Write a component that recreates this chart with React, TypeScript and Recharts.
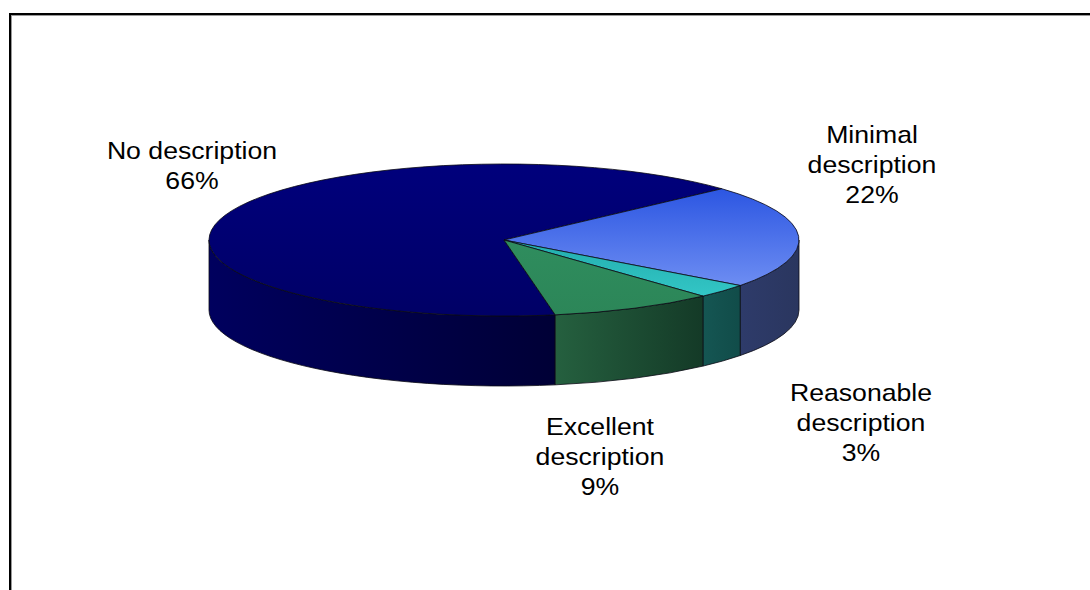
import React from 'react';
import { PieChart, Pie } from 'recharts';

// slice data (clockwise, starting at the front cut between Excellent and No)
const NAMES = ['No description', 'Minimal description', 'Reasonable description', 'Excellent description'];
const VALUES = [66, 22, 3, 9];
const LABEL_BREAK = [false, true, true, true];

const TOP_COLORS = [
  ['#00007c', '#000066'],
  ['#2c56e2', '#6d8df2'],
  ['#22adad', '#33c6c6'],
  ['#2f8d5e', '#2c8658'],
];
const WALL_COLORS = [
  ['#00005e', '#000036'],
  ['#2e3b6a', '#2a365f'],
  ['#155653', '#114c49'],
  ['#25603f', '#143a27'],
];
// label anchor, relative to pie centre (first baseline, centred)
const LABEL_OFFSETS = [
  [-312, -81],
  [368, -97],
  [357, 161],
  [96, 195],
];

const TILT = 76 / 295;
const DEPTH = 70;

const data = NAMES.map((name, i) => ({ name, value: VALUES[i] }));

const Slice3D = (props: any) => {
  const { cx, cy, outerRadius, startAngle, endAngle, index } = props;
  const rx = outerRadius;
  const ry = outerRadius * TILT;
  const pt = (a: number, dy = 0) => {
    const r = (a * Math.PI) / 180;
    return [cx + rx * Math.cos(r), cy - ry * Math.sin(r) + dy];
  };
  const lo = Math.min(startAngle, endAngle);
  const hi = Math.max(startAngle, endAngle);

  // visible front wall pieces (lower half of the ellipse)
  const walls: string[] = [];
  for (let k = -2; k <= 2; k++) {
    const a = Math.max(lo, -180 + 360 * k);
    const b = Math.min(hi, 360 * k);
    if (b - a > 0.01) {
      const [x0, y0] = pt(a);
      const [x1, y1] = pt(b);
      walls.push(
        `M${x0},${y0} A${rx},${ry} 0 0 0 ${x1},${y1} L${x1},${y1 + DEPTH} A${rx},${ry} 0 0 1 ${x0},${y0 + DEPTH} Z`
      );
    }
  }

  const [sx, sy] = pt(startAngle);
  const [ex, ey] = pt(endAngle);
  const large = Math.abs(endAngle - startAngle) > 180 ? 1 : 0;
  const top = `M${cx},${cy} L${sx},${sy} A${rx},${ry} 0 ${large} 1 ${ex},${ey} Z`;

  return (
    <g>
      <defs>
        <linearGradient id={`top-${index}`} x1="0" y1="0" x2="0" y2="1">
          <stop offset="0%" stopColor={TOP_COLORS[index][0]} />
          <stop offset="100%" stopColor={TOP_COLORS[index][1]} />
        </linearGradient>
        <linearGradient id={`wall-${index}`} x1="0" y1="0" x2="1" y2="0">
          <stop offset="0%" stopColor={WALL_COLORS[index][0]} />
          <stop offset="100%" stopColor={WALL_COLORS[index][1]} />
        </linearGradient>
      </defs>
      {walls.map((d, i) => (
        <path key={i} d={d} fill={`url(#wall-${index})`} stroke="#0a0a14" strokeWidth={0.8} />
      ))}
      <path d={top} fill={`url(#top-${index})`} stroke="#0a0a14" strokeWidth={0.8} strokeLinejoin="round" />
    </g>
  );
};

const renderLabel = (props: any) => {
  const { cx, cy, index, name, value } = props;
  const [ox, oy] = LABEL_OFFSETS[index];
  const lines = LABEL_BREAK[index] ? [...name.split(' '), `${value}%`] : [name, `${value}%`];
  return (
    <g key={`lbl-${index}`}>
      {lines.map((t: string, i: number) => (
        <text
          key={i}
          transform={`translate(${cx + ox},${cy + oy + i * 30}) scale(1.11,1)`}
          x={0}
          y={0}
          textAnchor="middle"
          fontFamily="'Liberation Sans', Arial, sans-serif"
          fontSize={24}
          fill="#000"
        >
          {t}
        </text>
      ))}
    </g>
  );
};

export default function App() {
  return (
    <div style={{ position: 'absolute', left: 0, top: 0, width: 1090, height: 590, background: '#fff', overflow: 'hidden' }}>
      <div
        style={{
          position: 'absolute',
          left: 9,
          top: 13,
          width: 1200,
          height: 700,
          borderLeft: '2px solid #000',
          borderTop: '2px solid #000',
          boxShadow: 'inset 1px 1px 0 #999',
        }}
      />
      <div style={{ position: 'absolute', left: 0, top: 0 }}>
        <PieChart width={1090} height={590} margin={{ top: 0, right: 0, bottom: 0, left: 0 }}>
          <Pie
            data={data}
            dataKey="value"
            nameKey="name"
            cx={504}
            cy={240}
            outerRadius={295}
            startAngle={-80}
            endAngle={-440}
            stroke="none"
            shape={Slice3D}
            label={renderLabel}
            labelLine={false}
            isAnimationActive={false}
          />
        </PieChart>
      </div>
    </div>
  );
}
